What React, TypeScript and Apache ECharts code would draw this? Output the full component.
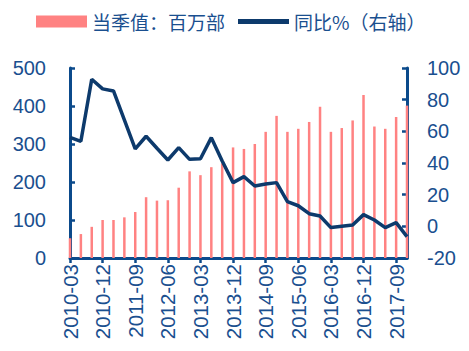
import React, { useEffect, useRef } from "react";
import * as echarts from "echarts";

const categories: string[] = [
  "2010-03", "2010-06", "2010-09", "2010-12",
  "2011-03", "2011-06", "2011-09", "2011-12",
  "2012-03", "2012-06", "2012-09", "2012-12",
  "2013-03", "2013-06", "2013-09", "2013-12",
  "2014-03", "2014-06", "2014-09", "2014-12",
  "2015-03", "2015-06", "2015-09", "2015-12",
  "2016-03", "2016-06", "2016-09", "2016-12",
  "2017-03", "2017-06", "2017-09", "2017-12",
];

const quarterValue: number[] = [
  52, 63, 82, 100, 100, 107, 121, 160,
  151, 152, 185, 228, 218, 239, 249, 291,
  287, 300, 332, 374, 332, 340, 358, 398,
  332, 342, 362, 429, 346, 340, 371, 401,
];

const yoyPct: number[] = [
  56.2, 53.7, 92.9, 86.8, 85.5, 67.2, 48.9, 56.9,
  49.3, 41.9, 49.7, 42.3, 42.7, 56, 41.3, 27.6,
  31.4, 25.5, 26.7, 27.6, 15.6, 13, 8, 6.5,
  -0.8, 0, 0.8, 7.4, 4, -0.8, 2.3, -6.5,
];

const barName = "当季值：百万部";
const lineName = "同比%（右轴）";

const axisColor = "#0b4a8b";
const labelColor = "#1a4f8f";

export default function App() {
  const ref = useRef<HTMLDivElement>(null);
  useEffect(() => {
    if (!ref.current) return;
    const chart = echarts.init(ref.current, null, { renderer: "svg" });
    chart.setOption({
      animation: false,
      backgroundColor: "#ffffff",
      textStyle: { fontFamily: "Liberation Sans, Arial, sans-serif" },
      legend: {
        left: 31,
        top: 7,
        itemWidth: 51,
        itemHeight: 12,
        itemGap: 13,
        textStyle: {
          color: labelColor,
          fontSize: 19,
          fontFamily: "Noto Sans CJK SC, sans-serif",
        },
        data: [
          { name: barName, icon: "rect" },
          { name: lineName, icon: "path://M0,0 L50,0 L50,5 L0,5 Z" },
        ],
      },
      grid: { left: 70, right: 62, top: 68, bottom: 93, containLabel: false },
      xAxis: {
        type: "category",
        data: categories,
        boundaryGap: false,
        axisLine: { lineStyle: { color: axisColor, width: 3 } },
        axisTick: {
          show: true,
          interval: 2,
          length: 5,
          lineStyle: { color: axisColor, width: 2.5 },
        },
        axisLabel: {
          interval: 2,
          rotate: 90,
          color: labelColor,
          fontSize: 20.5,
          margin: 6,
        },
        splitLine: { show: false },
      },
      yAxis: [
        {
          type: "value",
          min: 0,
          max: 500,
          interval: 100,
          position: "left",
          axisLine: { show: true, lineStyle: { color: axisColor, width: 3 } },
          axisTick: {
            show: true,
            inside: true,
            length: 5,
            lineStyle: { color: axisColor, width: 2.5 },
          },
          axisLabel: { color: labelColor, fontSize: 20, margin: 24 },
          splitLine: { show: false },
        },
        {
          type: "value",
          min: -20,
          max: 100,
          interval: 20,
          position: "right",
          axisLine: { show: true, lineStyle: { color: axisColor, width: 3 } },
          axisTick: {
            show: true,
            inside: true,
            length: 5,
            lineStyle: { color: axisColor, width: 2.5 },
          },
          axisLabel: { color: labelColor, fontSize: 20, margin: 20 },
          splitLine: { show: false },
        },
      ],
      series: [
        {
          name: barName,
          type: "bar",
          data: quarterValue,
          barWidth: 2.5,
          itemStyle: { color: "#ff8282" },
          yAxisIndex: 0,
        },
        {
          name: lineName,
          type: "line",
          data: yoyPct,
          yAxisIndex: 1,
          symbol: "none",
          showSymbol: false,
          lineStyle: { color: "#0d3a6c", width: 3.5 },
          itemStyle: { color: "#0d3a6c" },
        },
      ],
    });
    return () => chart.dispose();
  }, []);
  return (
    <div
      ref={ref}
      style={{ position: "fixed", left: 0, top: 0, width: 469, height: 351 }}
    />
  );
}
